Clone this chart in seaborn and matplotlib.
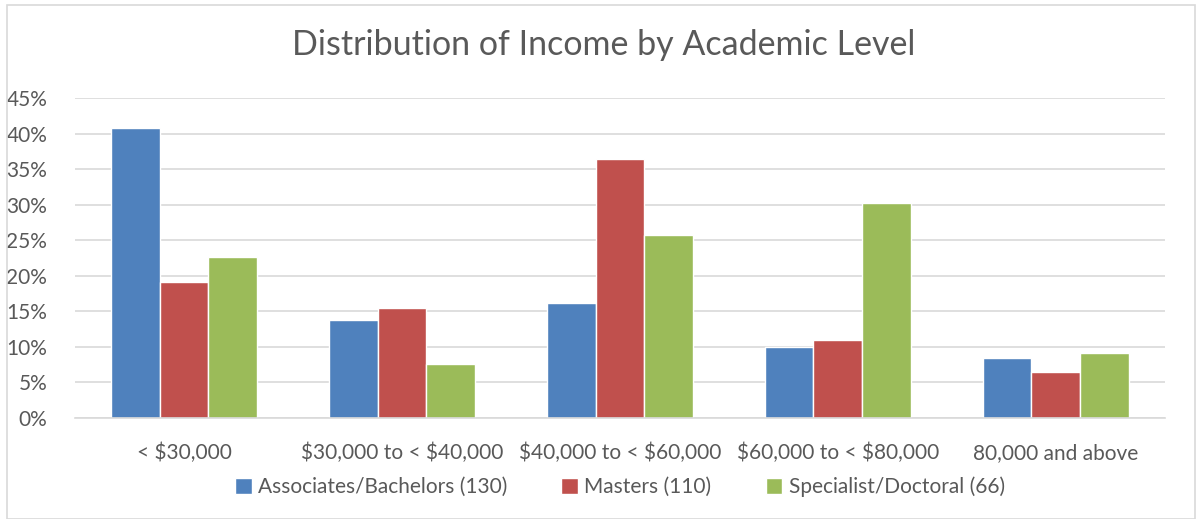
import pandas as pd
import matplotlib
matplotlib.use("Agg")
import matplotlib.pyplot as plt
import seaborn as sns
from matplotlib.patches import Rectangle

# Données (pourcentages)
categories = ["< $30,000", "$30,000 to < $40,000", "$40,000 to < $60,000",
              "$60,000 to < $80,000", "80,000 and above"]
groups = ["Associates/Bachelors (130)", "Masters (110)", "Specialist/Doctoral (66)"]
assoc_bach = [40.8, 13.8, 16.2, 10.0, 8.5]
masters = [19.1, 15.5, 36.4, 10.9, 6.4]
spec_doct = [22.7, 7.6, 25.8, 30.3, 9.1]
yticks = [0, 5, 10, 15, 20, 25, 30, 35, 40, 45]

colors = ["#4F81BD", "#C0504D", "#9BBB59"]
text_col = "#595959"

df = pd.DataFrame({
    "Revenu": categories * 3,
    "Niveau": [groups[0]] * 5 + [groups[1]] * 5 + [groups[2]] * 5,
    "Pourcentage": assoc_bach + masters + spec_doct,
})

sns.set_style("white")
plt.rcParams["font.family"] = ["Lato", "DejaVu Sans"]
plt.rcParams["text.parse_math"] = False  # les "$" restent du texte

fig = plt.figure(figsize=(12.02, 5.19), dpi=100)
ax = fig.add_axes([0.0624, 0.1946, 0.9066, 0.6166])

sns.barplot(data=df, x="Revenu", y="Pourcentage", hue="Niveau",
            palette=colors, width=0.67, saturation=1, ax=ax, legend=True)

ax.set_ylim(0, 45)
ax.set_yticks(yticks)
ax.set_yticklabels([f"{t}%" for t in yticks])
ax.set_xlim(-0.5, 4.5)
ax.grid(axis="y", color="#D9D9D9", linewidth=1.2)
ax.set_axisbelow(True)
for s in ["top", "right", "left"]:
    ax.spines[s].set_visible(False)
ax.spines["bottom"].set_color("#D9D9D9")
ax.spines["bottom"].set_linewidth(1.2)
ax.tick_params(axis="both", length=0, labelsize=15, colors=text_col)
ax.tick_params(axis="y", pad=20)
ax.tick_params(axis="x", pad=18)
ax.set_xlabel("")
ax.set_ylabel("")

fig.suptitle("Distribution of Income by Academic Level", x=0.502, y=0.945,
             fontsize=24.5, color=text_col)

handles, labels = ax.get_legend_handles_labels()
ax.legend(handles, labels, loc="center", bbox_to_anchor=(0.5, -0.215),
          ncol=3, frameon=False, fontsize=15, labelcolor=text_col,
          handlelength=0.8, handleheight=0.8, handletextpad=0.3,
          columnspacing=2.6)

# Cadre du graphique
fig.patches.append(Rectangle((0.006, 0.0), 0.988, 0.99, transform=fig.transFigure,
                             fill=False, edgecolor="#D9D9D9", linewidth=1.2))

fig.savefig("out.png", dpi=100)
